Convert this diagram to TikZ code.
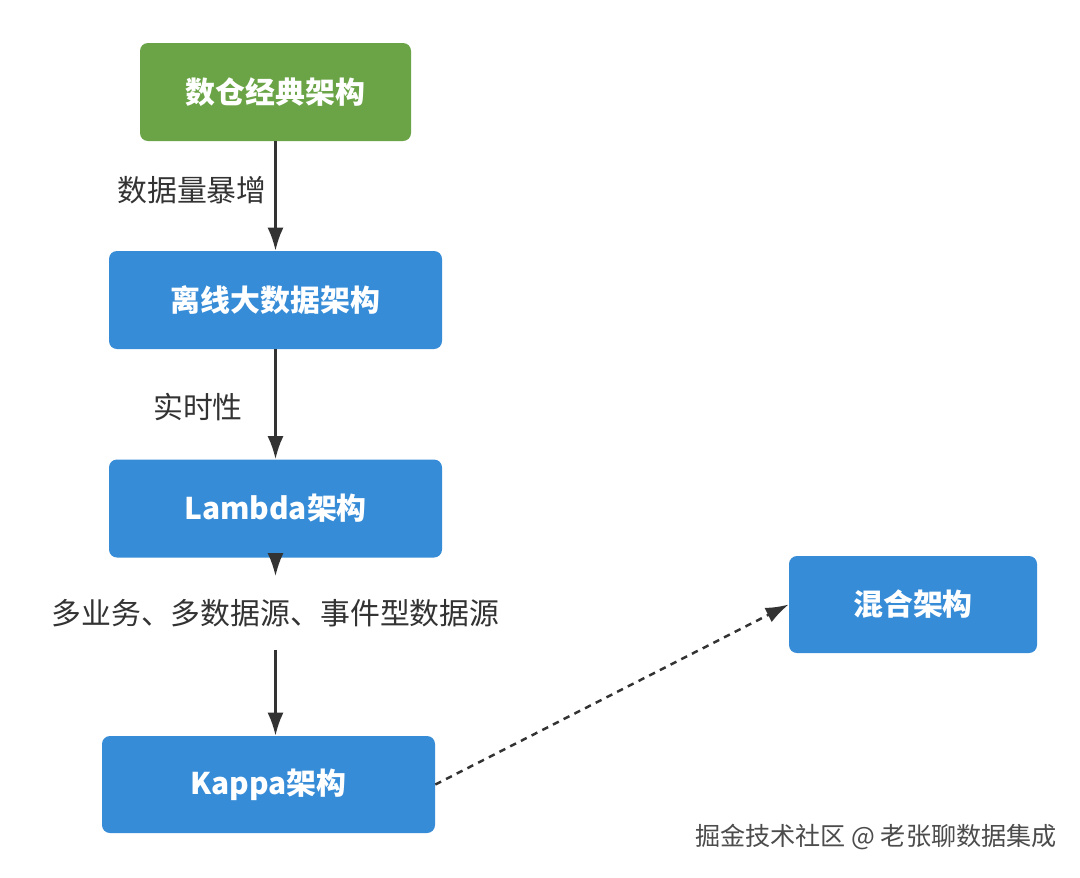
\documentclass[tikz,border=0pt]{standalone}
\usepackage{fontspec}
\setmainfont{Noto Sans CJK SC}
\usetikzlibrary{arrows.meta,positioning}
\definecolor{boxblue}{RGB}{54,140,215}
\definecolor{boxgreen}{RGB}{106,164,70}
\definecolor{linegray}{RGB}{51,51,51}

\begin{document}
\begin{tikzpicture}[>={Latex[length=4.6mm,width=3.2mm]},
  archbox/.style={fill=boxblue,rounded corners=1.6mm,minimum width=6.66cm,minimum height=1.96cm,text=white,font=\fontsize{17}{20}\selectfont\bfseries,inner sep=0pt},
  flowline/.style={draw=linegray,line width=1.4pt},
  steplabel/.style={text=linegray,font=\fontsize{17}{20}\selectfont,inner sep=0pt}]
\useasboundingbox[fill=white] (0,0) rectangle (21.6,-17.54);
\node[archbox,fill=boxgreen,minimum width=5.42cm] (classic) at (5.51,-1.84) {数仓经典架构};
\node[archbox] (offline) at (5.51,-6.0) {离线大数据架构};
\node[archbox] (lambda) at (5.51,-10.17) {Lambda架构};
\node[archbox,minimum height=1.94cm] (kappa) at (5.37,-15.69) {Kappa架构};
\node[archbox,minimum width=4.96cm,minimum height=1.94cm] (hybrid) at (18.26,-12.09) {混合架构};
% labels on the connectors
\node[steplabel] (grow) at (3.84,-3.8) {数据量暴增};
\node[steplabel] (realtime) at (3.96,-8.14) {实时性};
\node[steplabel,minimum height=1.46cm] (multi) at (5.51,-12.26) {多业务、多数据源、事件型数据源};
\draw[flowline,->] (classic.south)--(offline.north);
\draw[flowline,->] (offline.south)--(lambda.north);
\draw[flowline,->] (lambda.south)--(multi.north);
\draw[flowline,->] (multi.south)--(kappa.north-|multi.south);
\draw[flowline,->,dash pattern=on 1.3mm off 1.1mm] (kappa.east)--(hybrid.west);
\node[text=black!70,font=\fontsize{14.3}{17}\selectfont,inner sep=0pt] (mark) at (17.52,-16.74) {掘金技术社区 @ 老张聊数据集成};
\end{tikzpicture}
\end{document}
